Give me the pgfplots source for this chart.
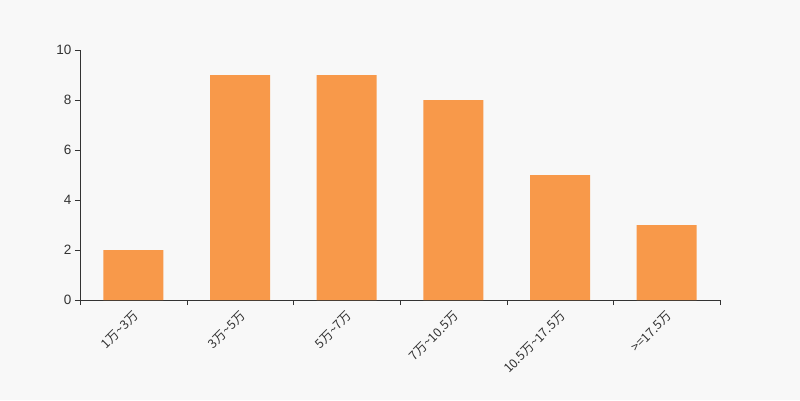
\documentclass[border=0pt]{standalone}
\usepackage{pgfplots}
\pgfplotsset{compat=1.18}
\usepackage{fontspec}
\setmainfont{Liberation Sans}
\newfontfamily\cjk{Noto Sans CJK SC}
\definecolor{bg}{HTML}{F8F8F8}
\definecolor{bar}{HTML}{F8994A}
\definecolor{txt}{HTML}{333333}
\begin{document}
\begin{tikzpicture}[x=1pt,y=1pt]
\fill[bg] (-80,-100) rectangle (720,300);
\useasboundingbox (-80,-100) rectangle (720,300);
\begin{axis}[
  at={(0,0)}, anchor=south west,
  scale only axis, width=640pt, height=250pt,
  xmin=-0.5, xmax=5.5, ymin=0, ymax=10,
  axis lines=left, axis line style={-, draw=txt},
  xtick={0,...,5},
  xticklabels={{\cjk 1万\textasciitilde 3万},{\cjk 3万\textasciitilde 5万},{\cjk 5万\textasciitilde 7万},{\cjk 7万\textasciitilde 10.5万},{\cjk 10.5万\textasciitilde 17.5万},{\cjk >=17.5万}},
  x tick label style={rotate=45, anchor=north east, font=\fontsize{12.5}{14}\selectfont, text=txt, yshift=-1pt, xshift=-2pt, inner sep=2pt},
  major x tick style={draw=none},
  minor xtick={-0.5,0.5,...,5.5},
  minor tick length=5pt,
  ytick={0,2,...,10},
  y tick label style={font=\fontsize{13.5}{15}\selectfont, text=txt},
  tick style={draw=txt},
  major tick length=5pt,
  tick align=outside,
  /pgf/number format/assume math mode=true,
  clip=false,
]
\addplot[ybar, bar width=0.5625, fill=bar, draw=none] coordinates {(0,2) (1,9) (2,9) (3,8) (4,5) (5,3)};
\end{axis}
\end{tikzpicture}
\end{document}
